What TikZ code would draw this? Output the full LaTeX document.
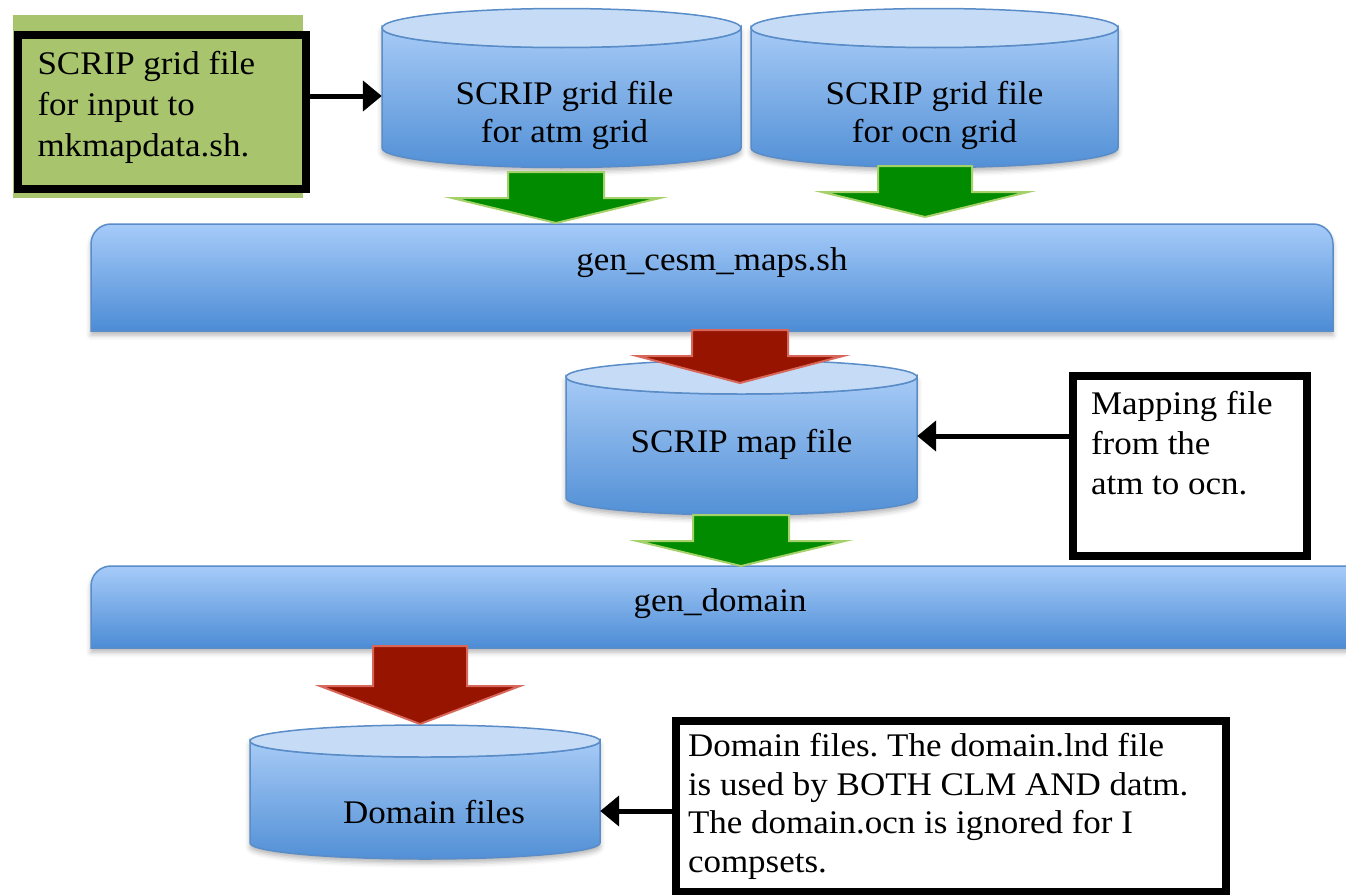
\documentclass[tikz,border=0pt]{standalone}
\usepackage{fontspec}
\setmainfont{Liberation Serif}[FakeStretch=1.06]
\usetikzlibrary{arrows.meta,shadows.blur}
\frenchspacing

\definecolor{barTop}{HTML}{A6CBF9}
\definecolor{barBot}{HTML}{4C8CD5}
\definecolor{edgeBlue}{HTML}{5A8DC8}
\definecolor{cylA}{HTML}{A6CAF6}
\definecolor{cylB}{HTML}{5290D6}
\definecolor{cylTopC}{HTML}{C6DCF6}
\definecolor{grnFill}{HTML}{008B00}
\definecolor{grnEdge}{HTML}{A5D16A}
\definecolor{redFill}{HTML}{961400}
\definecolor{redEdge}{HTML}{D8675B}
\definecolor{noteGreen}{HTML}{A8C46C}

\tikzset{
  txt/.style={font=\fontsize{33}{38}\selectfont, inner sep=0pt, align=center},
  notebox/.style={draw=black, line width=8pt, anchor=north west},
  softshadow/.style={blur shadow={shadow xshift=0pt, shadow yshift=-4pt, shadow opacity=30, shadow blur radius=5pt}},
  barshape/.style={top color=barTop, bottom color=barBot, draw=edgeBlue, line width=1.5pt, softshadow},
  cylbody/.style={top color=cylA, bottom color=cylB, draw=edgeBlue, line width=1.5pt, softshadow},
  cyltop/.style={fill=cylTopC, draw=edgeBlue, line width=1.5pt},
  greenarrow/.style={fill=grnFill, draw=grnEdge, line width=2pt},
  redarrow/.style={fill=redFill, draw=redEdge, line width=2pt},
  conn/.style={draw=black, line width=5pt, -{Triangle[length=19pt,width=30pt]}},
}

% name, x1, x2, y top-ellipse centre, y bottom-arc centre, ry, text, text y
\newcommand\dbcyl[8]{%
  \pgfmathsetmacro\cylrx{(#3-#2)/2}%
  \pgfmathsetmacro\cylcx{(#3+#2)/2}%
  \pgfmathsetmacro\cylw{#3-#2}%
  \path[cylbody] (#2,#4) -- (#2,#5) arc[start angle=180,end angle=360,x radius=\cylrx pt,y radius=#6pt] -- (#3,#4) arc[start angle=0,end angle=-180,x radius=\cylrx pt,y radius=#6pt] -- cycle;
  \path[cyltop] (\cylcx,#4) ellipse[x radius=\cylrx pt,y radius=#6pt];
  \node[txt,minimum width=\cylw pt] (#1) at (\cylcx,#8) {#7};
}

% style, cx, shaft half width, head half width, y shaft top, y head, y tip
\newcommand\blockarrow[7]{%
  \path[#1] (#2-#3,#5) -- (#2+#3,#5) -- (#2+#3,#6) -- (#2+#4,#6) -- (#2,#7) -- (#2-#4,#6) -- (#2-#3,#6) -- cycle;
}

\begin{document}
\begin{tikzpicture}[x=1pt,y=-1pt]
\useasboundingbox (0,0) rectangle (1346,894);

% top cylinders
\dbcyl{atm}{382}{741}{28}{148}{19.5}{\hspace*{6pt}SCRIP grid file\\\hspace*{6pt}for atm grid}{115}
\dbcyl{ocn}{751}{1118}{28}{148}{19.5}{SCRIP grid file\\for ocn grid}{115}

% bars
\path[barshape] (91,331) -- (91,244) arc[start angle=180,end angle=90,radius=20pt] -- (1313,224) arc[start angle=90,end angle=0,radius=20pt] -- (1333,331) -- cycle;
\node[txt] (maps) at (712,263) {gen\_cesm\_maps.sh};

\path[barshape] (91,648) -- (91,586) arc[start angle=180,end angle=90,radius=20pt] -- (1370,566) -- (1370,648) -- cycle;
\node[txt] (gendom) at (720,604) {gen\_domain};

% lower cylinders
\dbcyl{map}{566}{917}{377}{498}{17}{SCRIP map file}{444}
\dbcyl{dom}{250}{600}{741}{843}{16}{\hspace*{18pt}Domain files}{812}

% block arrows
\blockarrow{greenarrow}{556}{48}{104}{172}{198}{223}
\blockarrow{greenarrow}{925}{47}{103}{166}{192}{217}
\blockarrow{redarrow}{740}{48}{103}{330}{356}{383}
\blockarrow{greenarrow}{741}{48}{104}{515}{541}{566}
\blockarrow{redarrow}{420}{47}{100}{646}{686}{724}

% notes
\fill[noteGreen] (13,15) rectangle (303,198);
\node[notebox, inner xsep=20pt, inner ysep=17pt] (green) at (13.5,30.5)
  {\begin{minipage}[c][120pt][t]{248pt}\raggedright\fontsize{33}{41}\selectfont SCRIP grid file\\for input to\\mkmapdata.sh.\end{minipage}};

\node[notebox, fill=white, inner xsep=18pt, inner ysep=12pt] (mapnote) at (1069,372)
  {\begin{minipage}[c][156pt][t]{198pt}\raggedright\fontsize{33}{40}\selectfont \vspace*{3pt}Mapping file\\from the\\atm to ocn.\end{minipage}};

\node[notebox, fill=white, inner xsep=12pt, inner ysep=7.5pt] (domnote) at (672,717)
  {\begin{minipage}[c][156pt][t]{526pt}\raggedright\fontsize{33}{38.5}\selectfont \vspace*{5pt}Domain files. The domain.lnd file\\is used by BOTH CLM AND datm.\\The domain.ocn is ignored for I\\compsets.\end{minipage}};

% connectors
\coordinate (c1) at (0,96);
\coordinate (c2) at (0,436);
\coordinate (c3) at (0,811);
\draw[conn] (green.east |- c1) -- (atm.west |- c1);
\draw[conn] (mapnote.west |- c2) -- (map.east |- c2);
\draw[conn] (domnote.west |- c3) -- (dom.east |- c3);
\end{tikzpicture}
\end{document}
